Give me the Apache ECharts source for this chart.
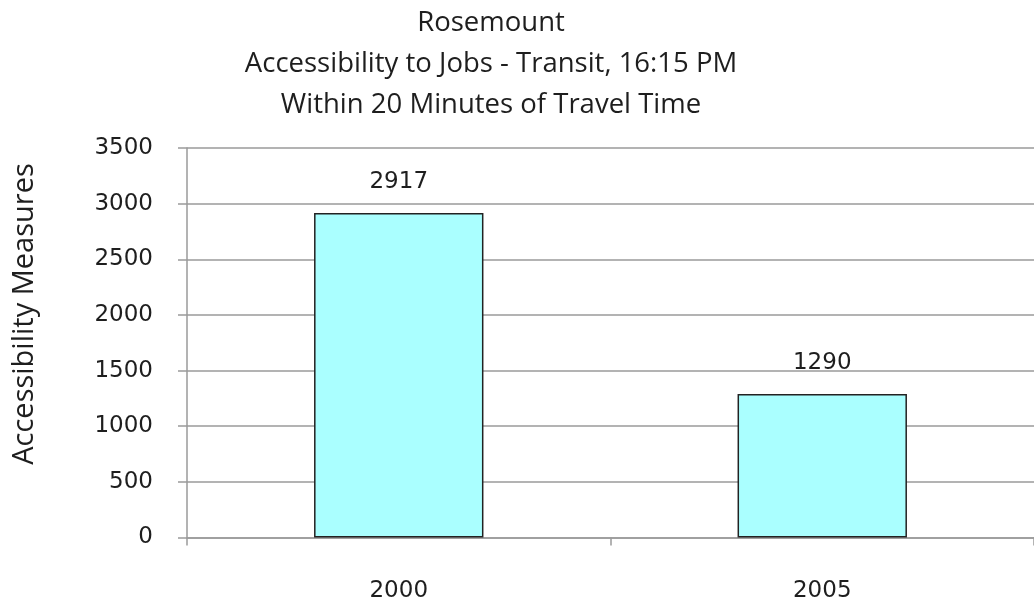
<!DOCTYPE html>
<html>
<head>
<meta charset="utf-8">
<script src="https://cdn.jsdelivr.net/npm/echarts@6/dist/echarts.min.js"></script>
<style>
  html, body { margin: 0; padding: 0; background: #ffffff; }
  #chart { width: 1034px; height: 605px; }
</style>
</head>
<body>
<div id="chart"></div>
<script>
// Rosemount transit job accessibility, 20-minute travel window
const years = ['2000', '2005'];
const accessibility = [2917, 1290];
const titleLines = [
  'Rosemount',
  'Accessibility to Jobs - Transit, 16:15 PM',
  'Within 20 Minutes of Travel Time'
];
const yAxisTitle = 'Accessibility Measures';

const chart = echarts.init(document.getElementById('chart'));
const textColor = '#1e1e1e';
const gridColor = '#9a9a9a';
const titleFont = '"Open Sans", Lato, sans-serif';
const numFont = '"DejaVu Sans", sans-serif';

chart.setOption({
  animation: false,
  backgroundColor: '#ffffff',
  title: {
    text: titleLines.join('\n'),
    left: 486,
    textAlign: 'center',
    top: -2,
    textStyle: {
      fontFamily: titleFont,
      fontWeight: 'normal',
      fontSize: 27.5,
      lineHeight: 41,
      color: textColor
    }
  },
  graphic: [{
    type: 'text',
    x: 25,
    y: 314,
    rotation: Math.PI / 2,
    style: {
      text: yAxisTitle,
      fontFamily: titleFont,
      fontSize: 29,
      fill: textColor,
      align: 'center',
      verticalAlign: 'middle'
    }
  }],
  grid: { left: 187, right: -3, top: 148, bottom: 67.5 },
  xAxis: {
    type: 'category',
    data: years,
    axisLine: { lineStyle: { color: gridColor, width: 1.5 } },
    axisTick: { show: true, length: 8, lineStyle: { color: gridColor, width: 1.5 } },
    axisLabel: {
      margin: 42,
      fontFamily: numFont,
      fontSize: 23,
      color: textColor
    }
  },
  yAxis: {
    type: 'value',
    min: 0,
    max: 3500,
    interval: 500,
    axisLine: { show: true, lineStyle: { color: gridColor, width: 1.5 } },
    axisTick: { show: true, length: 9, lineStyle: { color: gridColor, width: 1.5 } },
    splitLine: { show: true, lineStyle: { color: gridColor, width: 1.5 } },
    axisLabel: {
      margin: 34,
      formatter: v => String(v),
      fontFamily: numFont,
      fontSize: 23,
      color: textColor
    }
  },
  series: [{
    type: 'bar',
    data: accessibility,
    barWidth: '40%',
    itemStyle: {
      color: '#aaffff',
      borderColor: '#222222',
      borderWidth: 1.5
    },
    label: {
      show: true,
      position: 'top',
      distance: 19,
      fontFamily: numFont,
      fontSize: 23,
      color: textColor
    }
  }]
});
</script>
</body>
</html>
